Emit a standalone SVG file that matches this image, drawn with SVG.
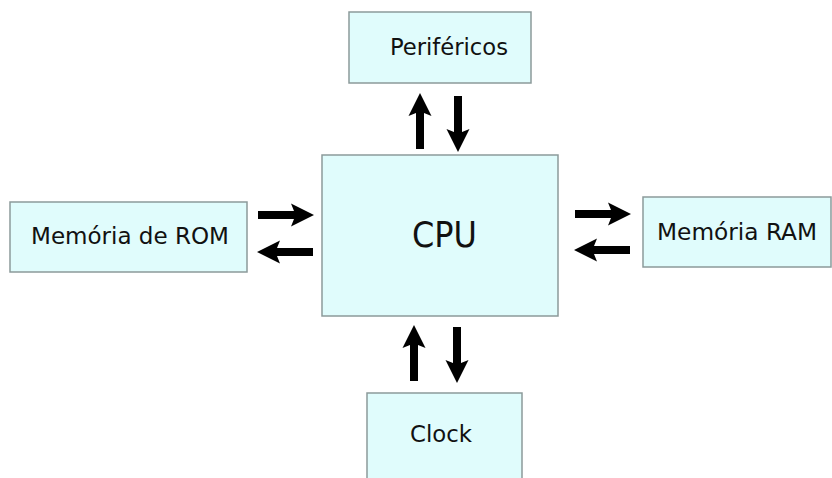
<svg xmlns="http://www.w3.org/2000/svg" width="832" height="478" viewBox="0 0 832 478">
  <style>
    .box { fill: #e0fcfc; stroke: #8c9a9a; stroke-width: 1.5; }
    .lbl { font-family: "DejaVu Sans Condensed", "DejaVu Sans", "Liberation Sans", sans-serif; font-size: 23px; fill: #111; text-anchor: middle; }
    .big { font-size: 36px; }
    .arr { fill: #000; }
  </style>
  <defs>
    <!-- block arrow pointing right, length 56, origin at tail centre -->
    <polygon id="ar" points="0,-4 36,-4 33,-11.5 56,0 33,11.5 36,4 0,4"/>
  </defs>
  <rect width="832" height="478" fill="#fff"/>

  <g id="perifericos">
    <rect class="box" x="349" y="12" width="182" height="71"/>
    <text class="lbl" x="449" y="55" font-size="24" textLength="118" lengthAdjust="spacingAndGlyphs">Periféricos</text>
  </g>
  <g id="cpu">
    <rect class="box" x="322" y="155" width="236" height="161"/>
    <text class="lbl big" x="444.5" y="247" textLength="65" lengthAdjust="spacingAndGlyphs">CPU</text>
  </g>
  <g id="rom">
    <rect class="box" x="10" y="202" width="237" height="70"/>
    <text class="lbl" x="130" y="244" textLength="198" lengthAdjust="spacingAndGlyphs">Memória de ROM</text>
  </g>
  <g id="ram">
    <rect class="box" x="643" y="197" width="188" height="70"/>
    <text class="lbl" x="737" y="240" textLength="160" lengthAdjust="spacingAndGlyphs">Memória RAM</text>
  </g>
  <g id="clock">
    <rect class="box" x="367" y="393" width="155" height="90"/>
    <text class="lbl" x="441" y="442" font-size="27" textLength="62" lengthAdjust="spacingAndGlyphs">Clock</text>
  </g>

  <g id="connectors" class="arr">
    <!-- CPU / Periféricos -->
    <use href="#ar" transform="translate(420,149) rotate(-90)"/>
    <use href="#ar" transform="translate(458,96) rotate(90)"/>
    <!-- ROM / CPU -->
    <use href="#ar" transform="translate(258,215)"/>
    <use href="#ar" transform="translate(313,252) rotate(180)"/>
    <!-- CPU / RAM -->
    <use href="#ar" transform="translate(575,214)"/>
    <use href="#ar" transform="translate(630,250) rotate(180)"/>
    <!-- CPU / Clock -->
    <use href="#ar" transform="translate(414,381) rotate(-90)"/>
    <use href="#ar" transform="translate(457,327) rotate(90)"/>
  </g>
</svg>
